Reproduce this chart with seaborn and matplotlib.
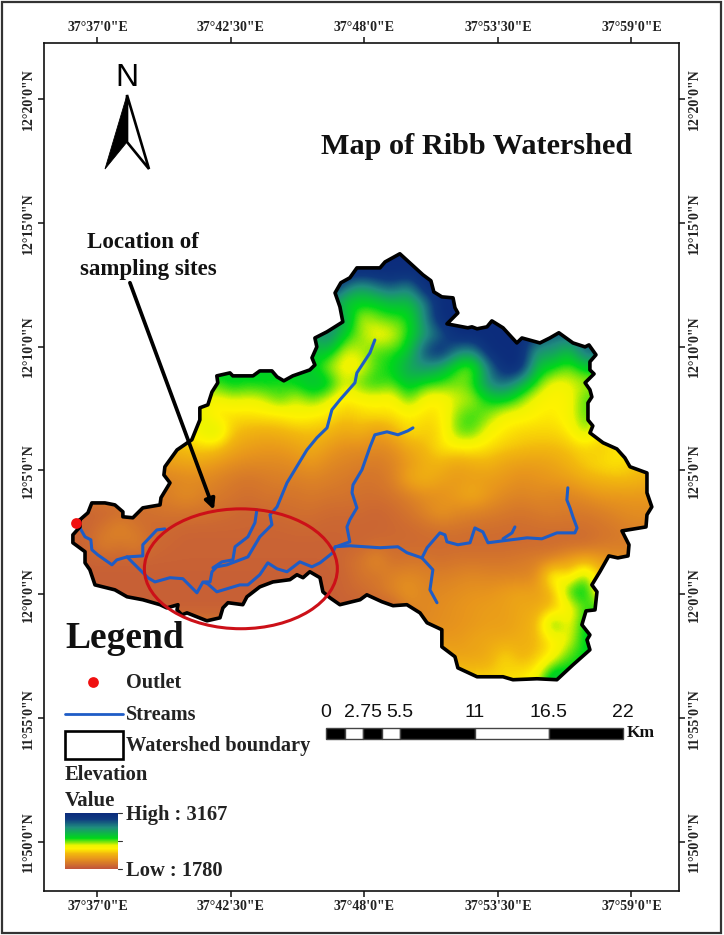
#!/usr/bin/env python
# coding: utf-8

import numpy as np
import pandas as pd
import seaborn as sns
import matplotlib.pyplot as plt
from matplotlib.colors import LinearSegmentedColormap
from matplotlib.patches import Ellipse, PathPatch, Polygon, Rectangle
from matplotlib.path import Path

# -----------------------------
# Data (arc minutes: lon past 37 deg, lat past 11 deg)
# -----------------------------
boundary_lon = [
    36.28, 36.61, 36.77, 37.31, 37.72, 38.05, 38.05, 38.46, 38.87, 39.58, 39.62, 39.99, 39.74, 39.78, 40.28,
    40.89, 41.22, 41.22, 41.55, 41.72, 41.96, 41.92, 42.46, 42.58, 43.41, 43.69, 44.19, 44.40, 44.68, 45.05,
    45.75, 45.96, 45.84, 46.04, 45.96, 46.46, 47.11, 46.99, 46.79, 47.03, 47.40, 47.69, 48.64, 48.85, 49.46,
    49.96, 50.41, 50.74, 50.86, 51.19, 51.65, 51.73, 51.85, 51.40, 52.26, 52.43, 52.64, 53.05, 53.25, 53.71,
    54.28, 54.49, 55.23, 55.64, 56.01, 56.59, 57.09, 57.25, 57.54, 57.29, 57.29, 57.46, 57.09, 57.29, 57.37,
    57.21, 57.21, 57.41, 57.29, 57.83, 58.40, 58.73, 58.94, 59.64, 59.64, 59.84, 59.64, 59.60, 58.61, 58.90,
    58.86, 58.44, 58.07, 57.70, 57.37, 57.58, 57.50, 57.13, 56.96, 57.29, 57.17, 57.29, 56.59, 55.93, 55.11,
    54.12, 53.71, 53.05, 52.64, 51.85, 51.73, 51.19, 51.19, 50.58, 50.29, 49.75, 49.18, 48.72, 48.10, 47.82,
    46.99, 46.58, 46.29, 46.17, 45.75, 45.47, 45.22, 44.93, 44.23, 43.69, 43.16, 42.99, 42.38, 42.17, 42.05,
    41.51, 40.69, 40.48, 40.28, 40.32, 39.86, 39.58, 38.87, 38.22, 37.72, 36.90, 36.69, 36.49, 36.49, 35.99,
    35.99, 36.28, 36.28,
]
boundary_lat = [
    63.01, 63.29, 63.69, 63.69, 63.61, 63.33, 63.13, 63.09, 63.49, 63.61, 63.90, 64.50, 64.82, 65.15, 65.83,
    66.24, 67.04, 67.53, 67.65, 68.17, 68.54, 68.82, 68.94, 68.82, 68.82, 69.02, 69.02, 68.78, 68.62, 68.82,
    69.06, 69.26, 69.55, 69.99, 70.35, 70.60, 71.00, 71.61, 72.17, 72.58, 72.78, 73.18, 73.18, 73.42, 73.75,
    73.30, 72.90, 72.66, 72.21, 72.01, 71.97, 71.57, 71.36, 70.92, 70.76, 70.80, 70.72, 70.80, 71.04, 70.76,
    70.15, 70.35, 70.15, 70.35, 70.56, 70.15, 69.99, 70.07, 69.67, 69.39, 69.06, 68.90, 68.54, 68.26, 67.97,
    67.73, 67.04, 66.80, 66.52, 66.12, 65.87, 65.51, 65.15, 64.90, 64.10, 63.53, 63.21, 62.72, 62.56, 62.00,
    61.55, 61.47, 61.55, 60.91, 60.38, 60.10, 59.37, 59.33, 58.77, 58.36, 58.16, 57.76, 57.15, 56.55, 56.59,
    56.55, 56.67, 56.67, 56.67, 57.03, 57.48, 57.88, 58.57, 58.85, 59.25, 59.58, 59.54, 59.70, 59.98, 59.78,
    59.58, 59.86, 60.10, 60.67, 60.91, 60.67, 60.79, 60.59, 60.50, 60.30, 59.90, 59.58, 59.66, 59.45, 59.05,
    58.93, 59.25, 59.17, 59.37, 59.58, 59.45, 59.58, 59.78, 59.90, 60.18, 60.38, 60.99, 61.27, 61.72, 62.08,
    62.40, 62.72, 63.01,
]

main_lon = [36.28, 36.49, 36.73, 36.77, 37.02, 37.60, 37.80, 38.22, 39.08, 39.37, 39.99, 40.52, 41.10, 41.35, 41.55,
            41.92, 42.87, 43.20, 43.69, 44.02, 44.40, 44.81, 45.34, 45.84, 46.17, 46.70, 46.79, 47.40, 48.64, 49.38,
            49.75, 50.37, 50.58, 51.11, 51.32, 51.40, 51.85, 52.35, 52.55, 52.88, 53.09, 53.71, 54.70, 55.31, 55.93,
            56.67, 56.76, 56.59, 56.47, 56.34, 56.38]
main_lat = [62.68, 62.32, 62.20, 61.80, 61.59, 61.19, 61.39, 61.51, 60.67, 60.50, 60.67, 60.63, 60.06, 60.50, 60.42,
            60.10, 60.38, 60.38, 60.79, 61.27, 61.03, 60.91, 61.31, 61.11, 61.27, 61.68, 61.92, 61.96, 61.88, 61.92,
            61.68, 61.47, 61.88, 62.48, 62.40, 62.12, 62.00, 62.08, 62.68, 62.52, 62.08, 62.16, 62.28, 62.24, 62.48,
            62.48, 62.68, 63.13, 63.49, 63.81, 64.30]
west_lon = [39.78, 39.45, 38.87, 38.87, 38.22]
west_lat = [62.64, 62.60, 62.00, 61.55, 61.51]
north_lon = [48.43, 48.23, 47.69, 47.61, 46.99, 46.66, 46.46, 46.04, 45.63, 44.81, 44.40, 44.11, 44.19, 43.69, 43.20,
             42.34, 41.92, 41.72, 41.64, 41.43]
north_lat = [70.27, 69.75, 68.94, 68.54, 67.85, 67.45, 66.72, 66.32, 65.83, 64.50, 63.53, 63.21, 62.81, 62.32, 61.51,
             61.19, 61.11, 60.91, 60.50, 60.50]
mid_lon = [43.57, 43.49, 43.20, 42.67, 42.58, 42.13, 41.76]
mid_lat = [63.41, 62.89, 62.32, 61.92, 61.39, 61.31, 61.07]
east_lon = [50.00, 49.79, 49.38, 48.93, 48.43, 48.23, 47.90, 47.53, 47.49, 47.69, 47.40, 47.28, 47.40, 46.83]
east_lat = [66.72, 66.60, 66.44, 66.56, 66.44, 65.95, 65.03, 64.42, 64.10, 63.49, 63.01, 62.72, 62.12, 61.92]
small_lon = [53.71, 54.08, 54.20]
small_lat = [62.24, 62.48, 62.72]
south_lon = [50.37, 50.82, 50.70, 50.99]
south_lat = [61.47, 60.99, 60.18, 59.66]

outlet_lon = [36.11]
outlet_lat = [62.89]

# elevation, in tens of metres, north row first
elev_rows = [
    [316] * 37,
    [316] * 37,
    [316] * 17 + [292, 272, 286, 296, 280, 316] + [316] * 14,
    [290] * 16 + [285, 256, 256, 256, 265, 262, 282] + [316] * 14,
    [275] * 17 + [276, 236, 245, 248, 250, 282] + [316] * 14,
    [270] * 16 + [290, 255, 245, 230, 235, 252, 275, 290, 316, 316, 316, 316, 316, 300, 290, 290, 290] + [300] * 4,
    [262] * 17 + [236, 240, 250, 250, 258, 300, 316, 285, 280, 316, 316, 316, 275, 280, 260, 295] + [295] * 4,
    [258] * 16 + [240, 232, 232, 250, 255, 275, 280, 270, 250, 240, 285, 316, 316, 262, 255, 245, 258] + [258] * 4,
    [250] * 10 + [258, 254, 256, 252, 256, 265, 262, 236, 250, 254, 248, 262, 252, 250, 245, 250, 285, 292, 270,
                  250, 232, 236, 240] + [240] * 4,
    [236] * 9 + [232, 238, 235, 238, 250, 236, 248, 236, 226, 230, 232, 228, 250, 230, 228, 238, 240, 255, 258, 245,
                 232, 228, 230, 250] + [250] * 4,
    [230] * 8 + [240, 222, 224, 224, 226, 226, 232, 228, 226, 218, 222, 224, 224, 228, 224, 225, 245, 252, 245, 232,
                 232, 228, 226, 232, 250] + [240] * 4,
    [225] * 8 + [236, 248, 218, 214, 212, 214, 216, 218, 215, 210, 214, 205, 212, 225, 220, 222, 248, 250, 232, 226,
                 222, 222, 222, 226, 246] + [226] * 4,
    [215] * 7 + [218, 222, 220, 210, 206, 204, 204, 208, 212, 205, 200, 200, 198, 200, 210, 215, 226, 228, 228, 224,
                 220, 218, 216, 216, 218, 222, 218, 226, 226, 226],
    [205] * 7 + [208, 208, 204, 200, 198, 198, 198, 200, 204, 198, 196, 194, 192, 196, 204, 212, 214, 208, 212, 214,
                 208, 206, 206, 208, 214, 220, 224, 226, 220, 216],
    [198] * 6 + [195, 198, 198, 196, 192, 190, 192, 194, 194, 196, 194, 192, 190, 190, 194, 210, 214, 208, 204, 206,
                 205, 204, 200, 202, 204, 206, 212, 214, 216, 216, 212],
    [194] * 7 + [200, 196, 192, 190, 188, 190, 190, 190, 192, 190, 190, 188, 188, 190, 194, 200, 200, 206, 212, 204,
                 198, 196, 198, 196, 196, 200, 204, 204, 204, 204],
    [184, 184, 184, 186, 186, 188, 190, 190, 190, 188, 186, 184, 186, 186, 188, 188, 186, 186, 186, 184, 186, 190,
     196, 204, 198, 196, 194, 192, 190, 192, 194, 192, 192, 194, 198, 200, 200],
    [184, 184, 190, 198, 190, 186, 186, 184, 184, 184, 184, 184, 184, 184, 185, 185, 184, 184, 184, 184, 185, 186,
     188, 190, 190, 188, 188, 187, 187, 188, 188, 188, 188, 190, 192, 196, 196],
    [183, 184, 196, 190, 196, 186, 184] + [183] * 10 + [184, 184] + [186] * 14 + [190, 192, 192, 192],
    [183] * 17 + [186, 190, 200, 188, 190, 190, 188, 190, 190, 190, 190, 192, 194, 196, 206, 212, 206, 200, 200, 200],
    [182] * 17 + [184, 190, 190, 196, 198, 196, 194, 196, 198, 196, 196, 196, 198, 240, 220, 250, 215, 215, 215, 215],
    [182] * 17 + [184, 186, 190, 196, 204, 196, 198, 200, 202, 202, 206, 208, 206, 214, 254, 262, 220, 220, 220, 220],
    [182] * 21 + [196, 198, 200, 202, 204, 206, 206, 210, 210, 216, 228, 250] + [250] * 4,
    [190] * 22 + [198, 200, 202, 204, 206, 206, 210, 214, 258, 230, 258] + [258] * 4,
    [205] * 24 + [204, 208, 210, 210, 212, 214, 228, 234, 258] + [258] * 4,
    [210] * 24 + [208, 208, 210, 224, 212, 218, 228, 250, 255] + [255] * 4,
    [218] * 26 + [218, 222, 224, 228, 262, 256, 256] + [256] * 4,
    [226] * 29 + [240, 270, 260, 260] + [260] * 4,
]

elev_low = 1780
elev_high = 3167

lon_ticks = [37, 42.5, 48, 53.5, 59]
lon_labels = ["37°37'0\"E", "37°42'30\"E", "37°48'0\"E", "37°53'30\"E", "37°59'0\"E"]
lat_ticks = [80, 75, 70, 65, 60, 55, 50]
lat_labels = ["12°20'0\"N", "12°15'0\"N", "12°10'0\"N", "12°5'0\"N", "12°0'0\"N", "11°55'0\"N", "11°50'0\"N"]

scale_km = [0, 2.75, 5.5, 11, 16.5, 22]
scale_labels = ["0", "2.75", "5.5", "11", "16.5", "22"]
scale_edges = [0, 1.375, 2.75, 4.125, 5.5, 11, 16.5, 22]

# -----------------------------
# Style
# -----------------------------
W, H = 724, 935
SERIF = "Liberation Serif"
SANS = "Liberation Sans"
STREAM = "#1E5CC6"

sns.set_theme(style="white")
plt.rcParams["font.family"] = [SERIF, "DejaVu Serif"]

dem_cmap = LinearSegmentedColormap.from_list(
    "dem",
    [(0.0, "#C2573A"), (0.18, "#E8961C"), (0.27, "#F2B80E"), (0.36, "#FFF200"), (0.42, "#EEF400"),
     (0.55, "#00D81A"), (0.75, "#1F8C7E"), (0.9, "#0F3A80"), (1.0, "#0C2C7C")],
)


def px_axes(x0, y0, x1, y1):
    # axes placed from reference pixel edges
    return fig.add_axes([x0 / W, 1 - y1 / H, (x1 - x0) / W, (y1 - y0) / H])


fig = plt.figure(figsize=(W / 100, H / 100), dpi=100, facecolor="white")

# -----------------------------
# Map
# -----------------------------
ax = px_axes(44, 43, 679, 891)

elev = np.array(elev_rows, dtype=float) * 10
dem = ax.imshow(elev, extent=(35.62, 60.01, 55.90, 73.99), aspect="auto", cmap=dem_cmap,
                vmin=elev_low, vmax=elev_high, interpolation="bicubic", zorder=1)
outline = PathPatch(Path(np.column_stack([boundary_lon, boundary_lat])), transform=ax.transData)
dem.set_clip_path(outline)

streams = pd.concat([
    pd.DataFrame({"lon": lon, "lat": lat, "stream": name})
    for name, lon, lat in [
        ("main", main_lon, main_lat), ("west", west_lon, west_lat), ("north", north_lon, north_lat),
        ("mid", mid_lon, mid_lat), ("east", east_lon, east_lat), ("small", small_lon, small_lat),
        ("south", south_lon, south_lat),
    ]
])
sns.lineplot(data=streams, x="lon", y="lat", units="stream", estimator=None, sort=False,
             color=STREAM, lw=2.2, legend=False, ax=ax, zorder=3)
sns.lineplot(x=boundary_lon, y=boundary_lat, estimator=None, sort=False, color="black", lw=2.6, ax=ax, zorder=4)
sns.scatterplot(x=outlet_lon, y=outlet_lat, color="#F01010", s=60, linewidth=0, ax=ax, zorder=5)

ax.add_patch(Ellipse((42.91, 61.03), 7.95, 4.84, fill=False, edgecolor="#CC1018", lw=2.2, zorder=6))
ax.annotate("", xy=(41.80, 63.41), xytext=(38.34, 72.58),
            arrowprops=dict(arrowstyle="-|>", color="black", lw=2.7, mutation_scale=15, shrinkA=0, shrinkB=0),
            zorder=7)

ax.set_xlim(34.80, 60.96)
ax.set_ylim(48.02, 82.26)
ax.set_xlabel("")
ax.set_ylabel("")
ax.set_xticks(lon_ticks, lon_labels)
ax.set_yticks(lat_ticks, lat_labels)
ax.tick_params(axis="both", length=4.5, width=1.1, color="#111111", labelsize=10, pad=2,
               top=True, right=True, bottom=True, left=True, labeltop=True, labelright=True)
for t in ax.get_xticklabels() + ax.get_yticklabels():
    t.set_fontweight("bold")
    t.set_color("#222222")
for t in ax.get_yticklabels():
    t.set_rotation(90)
    t.set_verticalalignment("center")
for spine in ax.spines.values():
    spine.set_visible(True)
    spine.set_color("#111111")
    spine.set_linewidth(1.2)

# -----------------------------
# Furniture (north arrow, legend text, frame), in page pixels
# -----------------------------
page = fig.add_axes([0, 0, 1, 1], zorder=10)
page.set_xlim(0, W)
page.set_ylim(H, 0)
page.axis("off")

page.add_patch(Rectangle((2, 2), 719, 931, fill=False, edgecolor="#333333", lw=1.6))

page.text(127, 78, "N", family=SANS, fontsize=23, ha="center", va="center", color="black")
page.add_patch(Polygon([(127, 95), (149, 169), (127, 142)], closed=True, facecolor="white", edgecolor="black", lw=1.9))
page.add_patch(Polygon([(127, 95), (105, 169), (127, 142)], closed=True, facecolor="black", edgecolor="black", lw=0.6))

page.text(477, 146, "Map of Ribb Watershed", fontsize=21.8, fontweight="bold", ha="center", va="center",
          color="#111111")
page.text(143, 243, "Location of", fontsize=16.6, fontweight="bold", ha="center", va="center", color="#111111")
page.text(148, 270, "sampling sites", fontsize=16.5, fontweight="bold", ha="center", va="center", color="#111111")

page.text(65, 638, "Legend", fontsize=27, fontweight="bold", ha="left", va="center", color="#111111")
page.scatter([93], [682], color="#F01010", s=60, linewidth=0)
page.text(126, 683, "Outlet", fontsize=14.6, fontweight="bold", ha="left", va="center", color="#222222")
page.plot([65, 123], [714, 714], color=STREAM, lw=2.0)
page.text(126, 715, "Streams", fontsize=14.6, fontweight="bold", ha="left", va="center", color="#222222")
page.add_patch(Rectangle((65, 731), 58, 28, fill=False, edgecolor="black", lw=1.9))
page.text(126, 746, "Watershed boundary", fontsize=14.7, fontweight="bold", ha="left", va="center", color="#222222")
page.text(65, 775, "Elevation", fontsize=14.8, fontweight="bold", ha="left", va="center", color="#222222")
page.text(65, 801, "Value", fontsize=15, fontweight="bold", ha="left", va="center", color="#222222")
page.text(126, 815, f"High : {elev_high}", fontsize=14.8, fontweight="bold", ha="left", va="center", color="#222222")
page.text(126, 871, f"Low : {elev_low}", fontsize=14.8, fontweight="bold", ha="left", va="center", color="#222222")
for y in [813, 841, 869]:
    page.plot([118, 122], [y, y], color="#333333", lw=0.8)

# -----------------------------
# Elevation ramp
# -----------------------------
ramp_ax = px_axes(65, 813, 118, 869)
ramp = np.linspace(elev_high, elev_low, 56).reshape(-1, 1)
sns.heatmap(ramp, cmap=dem_cmap, vmin=elev_low, vmax=elev_high, cbar=False,
            xticklabels=False, yticklabels=False, ax=ramp_ax)

# -----------------------------
# Scale bar
# -----------------------------
bar_ax = px_axes(326, 728, 623, 739)
lefts = scale_edges[:-1]
widths = np.diff(scale_edges)
shades = ["black" if i % 2 == 0 else "white" for i in range(len(lefts))]
bar_ax.barh([0] * len(lefts), widths, left=lefts, height=1, color=shades, edgecolor="#444444", lw=1.0, clip_on=False)
bar_ax.set_xlim(0, 22)
bar_ax.set_ylim(-0.5, 0.5)
bar_ax.axis("off")
for km, label in zip(scale_km, scale_labels):
    bar_ax.annotate(label, (km, 1), xycoords=("data", "axes fraction"), xytext=(0, 11), textcoords="offset points",
                    family=SANS, fontsize=14, ha="center", va="center", color="#111111")
page.text(627, 733, "Km", fontsize=12.5, fontweight="bold", ha="left", va="center", color="#111111")

fig.savefig("out.png", dpi=100, facecolor="white")
